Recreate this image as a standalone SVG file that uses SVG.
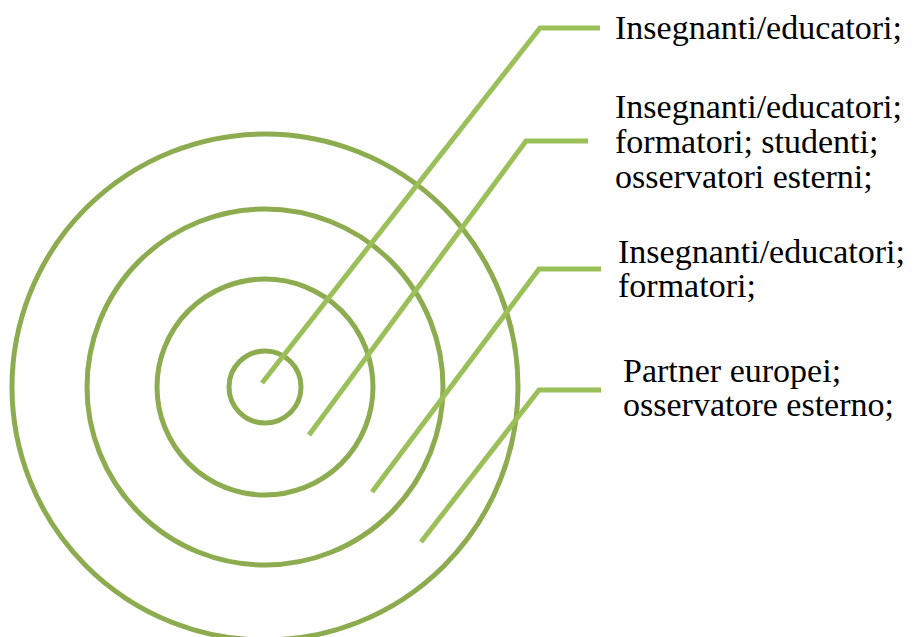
<svg xmlns="http://www.w3.org/2000/svg" width="914" height="637" viewBox="0 0 914 637">
<style>
.ring{fill:none;stroke:#8DAB4F;stroke-width:5}
.conn{fill:none;stroke:#9BBF59;stroke-width:5}
.lbl{font-family:"Liberation Serif","Times New Roman",serif;font-size:34px;fill:#000}
</style>
<rect width="914" height="637" fill="#fff"/>
<g id="ring-outer"><circle class="ring" cx="265" cy="387" r="253"/></g>
<g id="ring-3"><circle class="ring" cx="265" cy="387" r="178"/></g>
<g id="ring-2"><circle class="ring" cx="265" cy="387" r="108"/></g>
<g id="ring-inner"><circle class="ring" cx="265" cy="387" r="36"/></g>
<g id="connectors">
<polyline class="conn" points="262,383 540,28 600,28"/>
<polyline class="conn" points="309,435 526,141 588,141"/>
<polyline class="conn" points="372,492 539,269 601,269"/>
<polyline class="conn" points="421,542 539,390 601,390"/>
</g>
<g id="label-1"><text class="lbl" x="615" y="39">Insegnanti/educatori;</text></g>
<g id="label-2"><text class="lbl" x="615" y="118">Insegnanti/educatori;<tspan x="615" y="153">formatori; studenti;</tspan><tspan x="615" y="188">osservatori esterni;</tspan></text></g>
<g id="label-3"><text class="lbl" x="618" y="263">Insegnanti/educatori;<tspan x="618" y="297">formatori;</tspan></text></g>
<g id="label-4"><text class="lbl" x="623" y="382">Partner europei;<tspan x="623" y="416">osservatore esterno;</tspan></text></g>
</svg>
